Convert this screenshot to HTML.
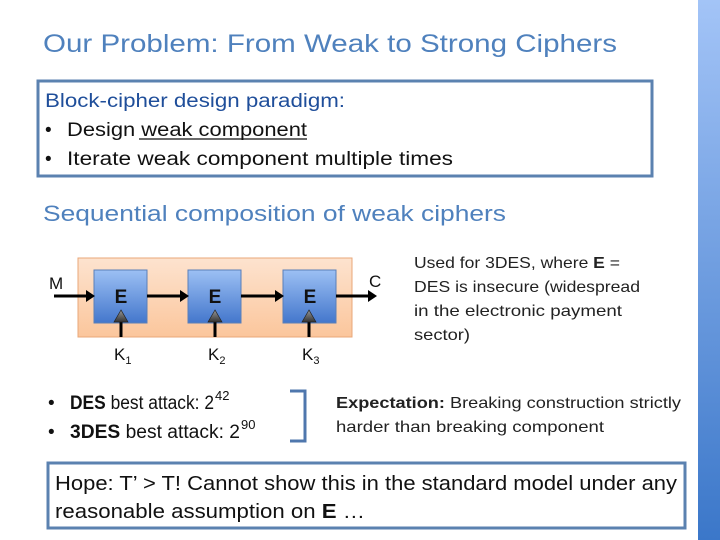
<!DOCTYPE html>
<html><head><meta charset="utf-8"><style>
html,body{margin:0;padding:0;background:#fff;}
svg{display:block;font-family:"Liberation Sans",sans-serif;}
</style></head><body>
<svg width="720" height="540" viewBox="0 0 720 540" xmlns="http://www.w3.org/2000/svg">
<defs>
<linearGradient id="side" x1="0" y1="0" x2="0" y2="1"><stop offset="0" stop-color="#a3c4f7"/><stop offset="1" stop-color="#3b77c9"/></linearGradient>
<linearGradient id="org" x1="0" y1="0" x2="0" y2="1"><stop offset="0" stop-color="#fde3cf"/><stop offset="1" stop-color="#fbc69c"/></linearGradient>
<linearGradient id="eb" x1="0" y1="0" x2="0" y2="1"><stop offset="0" stop-color="#9cc0f4"/><stop offset="1" stop-color="#4477cc"/></linearGradient>
<linearGradient id="tri" x1="0" y1="0" x2="0" y2="1"><stop offset="0" stop-color="#999"/><stop offset="1" stop-color="#333"/></linearGradient>
</defs>
<rect x="698" y="0" width="22" height="540" fill="url(#side)"/>
<text x="43" y="52" font-size="25" fill="#4f81bd" textLength="574" lengthAdjust="spacingAndGlyphs">Our Problem: From Weak to Strong Ciphers</text>
<rect x="38" y="81" width="614" height="95" fill="#fff" stroke="#5b82b0" stroke-width="3"/>
<g font-size="19" fill="#111">
<text x="45" y="107" fill="#1f4e9a" textLength="300" lengthAdjust="spacingAndGlyphs">Block-cipher design paradigm:</text>
<text x="45" y="136">•</text>
<text x="67" y="136" textLength="240" lengthAdjust="spacingAndGlyphs">Design weak component</text>
<line x1="139" y1="139" x2="307" y2="139" stroke="#111" stroke-width="1.3"/>
<text x="45" y="165">•</text>
<text x="67" y="165" textLength="386" lengthAdjust="spacingAndGlyphs">Iterate weak component multiple times</text>
</g>
<text x="43" y="221" font-size="22" fill="#4f81bd" textLength="463" lengthAdjust="spacingAndGlyphs">Sequential composition of weak ciphers</text>
<rect x="78" y="258" width="274" height="79" fill="url(#org)" stroke="#e9a778" stroke-width="1"/>
<g fill="url(#eb)" stroke="#5a7fb8" stroke-width="1">
<rect x="94" y="270" width="53" height="53"/><rect x="188" y="270" width="53" height="53"/><rect x="283" y="270" width="53" height="53"/>
</g>
<g font-size="19" font-weight="bold" fill="#111" text-anchor="middle">
<text x="121" y="303">E</text><text x="215" y="303">E</text><text x="310" y="303">E</text>
</g>
<g stroke="#000" stroke-width="3">
<line x1="54" y1="296" x2="88" y2="296"/><line x1="147" y1="296" x2="182" y2="296"/><line x1="241" y1="296" x2="277" y2="296"/><line x1="336" y1="296" x2="370" y2="296"/>
<line x1="121" y1="322" x2="121" y2="337"/><line x1="215" y1="322" x2="215" y2="337"/><line x1="309" y1="322" x2="309" y2="337"/>
</g>
<g fill="#000">
<polygon points="86,290 95,296 86,302"/><polygon points="180,290 189,296 180,302"/><polygon points="275,290 284,296 275,302"/><polygon points="368,290 377,296 368,302"/>
</g>
<g fill="url(#tri)" stroke="#222" stroke-width="0.7">
<polygon points="121,310 114,322 128,322"/><polygon points="215,310 208,322 222,322"/><polygon points="309,310 302,322 316,322"/>
</g>
<g font-size="17" fill="#111">
<text x="49" y="289">M</text><text x="369" y="287">C</text>
<text x="114" y="360">K<tspan font-size="11" dy="4">1</tspan></text>
<text x="208" y="360">K<tspan font-size="11" dy="4">2</tspan></text>
<text x="302" y="360">K<tspan font-size="11" dy="4">3</tspan></text>
</g>
<g font-size="16" fill="#222">
<text x="414" y="268" textLength="206" lengthAdjust="spacingAndGlyphs">Used for 3DES, where <tspan font-weight="bold">E</tspan> =</text>
<text x="414" y="292" textLength="226" lengthAdjust="spacingAndGlyphs">DES is insecure (widespread</text>
<text x="414" y="316" textLength="208" lengthAdjust="spacingAndGlyphs">in the electronic payment</text>
<text x="414" y="340" textLength="56" lengthAdjust="spacingAndGlyphs">sector)</text>
</g>
<g font-size="19" fill="#111">
<text x="48" y="409">•</text>
<text x="70" y="409" textLength="144" lengthAdjust="spacingAndGlyphs"><tspan font-weight="bold">DES</tspan> best attack: 2</text><text x="215" y="400" font-size="13">42</text>
<text x="48" y="438">•</text>
<text x="70" y="438" textLength="170" lengthAdjust="spacingAndGlyphs"><tspan font-weight="bold">3DES</tspan> best attack: 2</text><text x="241" y="429" font-size="13">90</text>
</g>
<path d="M290 391 H305 V441 H290" fill="none" stroke="#4f77ad" stroke-width="3"/>
<g font-size="16" fill="#222">
<text x="336" y="408" textLength="345" lengthAdjust="spacingAndGlyphs"><tspan font-weight="bold">Expectation:</tspan> Breaking construction strictly</text>
<text x="336" y="432" textLength="268" lengthAdjust="spacingAndGlyphs">harder than breaking component</text>
</g>
<rect x="48" y="463" width="637" height="65" fill="#fff" stroke="#5b82b0" stroke-width="3"/>
<g font-size="20" fill="#111">
<text x="55" y="490" textLength="622" lengthAdjust="spacingAndGlyphs">Hope: T’ &gt; T! Cannot show this in the standard model under any</text>
<text x="55" y="518" textLength="310" lengthAdjust="spacingAndGlyphs">reasonable assumption on <tspan font-weight="bold">E</tspan> …</text>
</g>
</svg>
</body></html>
